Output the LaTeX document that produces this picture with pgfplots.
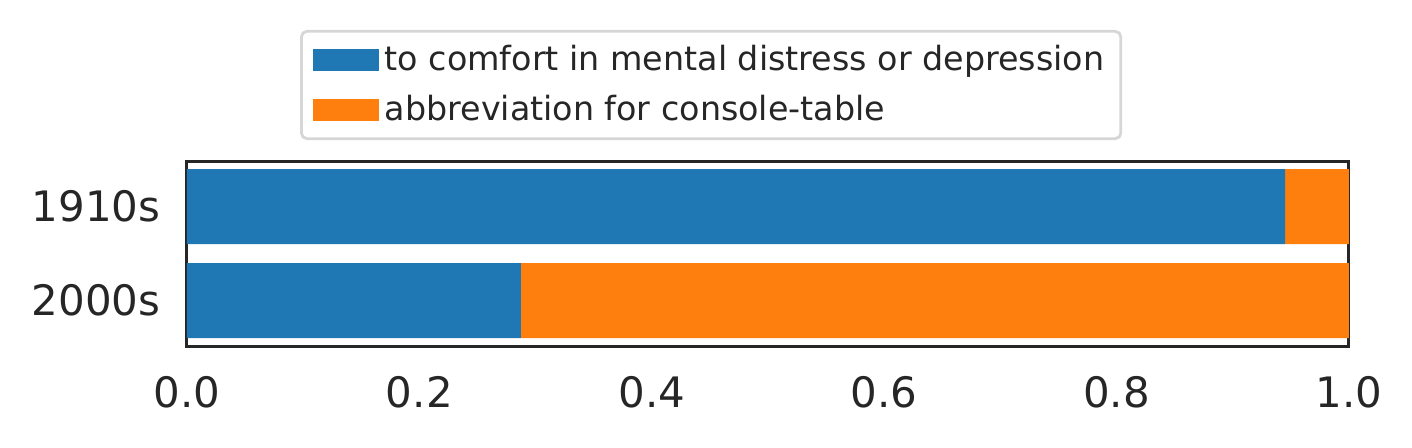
\documentclass[border=0pt]{standalone}
\usepackage{pgfplots}
\pgfplotsset{compat=1.18}
\usepackage{fontspec}
\setmainfont{DejaVu Sans}
\definecolor{cblue}{HTML}{1F77B4}
\definecolor{corange}{HTML}{FF7F0E}
\definecolor{txt}{HTML}{262626}
\begin{document}
\begin{tikzpicture}
\useasboundingbox (-67.3pt,-36.4pt) rectangle (441pt,124.6pt);
\begin{axis}[at={(0,0)}, anchor=south west, scale only axis,
  width=418.3pt, height=66.6pt,
  xbar stacked, bar width=0.8,
  xmin=0, xmax=1, ymin=-0.484, ymax=1.484,
  ytick={0,1}, yticklabels={2000s,1910s},
  xtick={0,0.2,0.4,0.6,0.8,1}, xticklabels={0.0,0.2,0.4,0.6,0.8,1.0},
  major tick length=0pt,
  axis line style={txt, line width=1.1pt},
  tick label style={font=\fontsize{15.1}{18}\selectfont, text=txt},
  yticklabel style={xshift=-6pt},
  xticklabel style={yshift=-7.5pt},
  legend style={at={(0.0973,1.709)}, anchor=north west, draw=black!16,
    rounded corners=2pt, line width=1pt,
    font=\fontsize{12}{14}\selectfont, text=txt,
    row sep=3.4pt, inner xsep=4pt, inner ysep=3pt},
  legend cell align=left,
  legend image code/.code={\fill[#1, sharp corners] (0pt,-4pt) rectangle (24pt,4pt);},
]
\addplot[fill=cblue, draw=none] coordinates {(0.945,1) (0.2874,0)};
\addplot[fill=corange, draw=none] coordinates {(0.055,1) (0.7126,0)};
\legend{to comfort in mental distress or depression, abbreviation for console-table}
\end{axis}
\end{tikzpicture}
\end{document}
